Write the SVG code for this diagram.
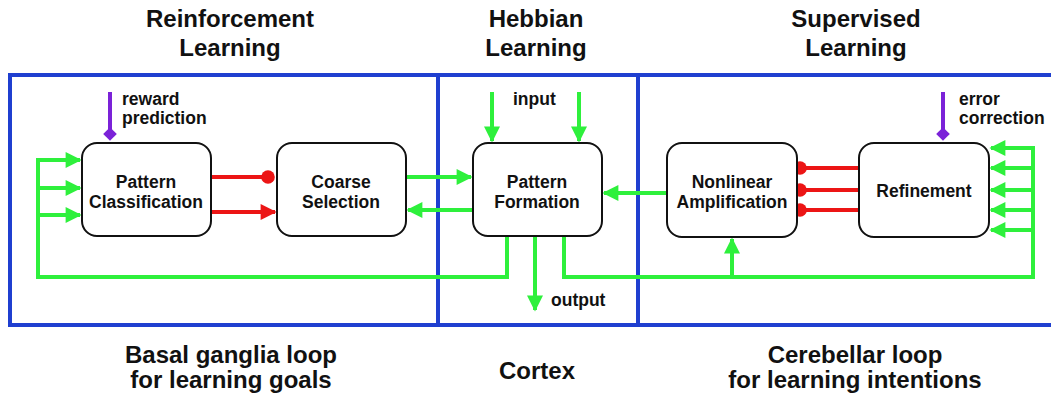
<svg xmlns="http://www.w3.org/2000/svg" width="1051" height="398" viewBox="0 0 1051 398">
<defs>
<style>
.title{font-family:"Liberation Sans",Arial,sans-serif;font-weight:bold;font-size:24px;fill:#111;text-anchor:middle}
.node{fill:#fff;stroke:#111;stroke-width:2}
.nt{font-family:"Liberation Sans",Arial,sans-serif;font-weight:bold;font-size:17.5px;fill:#111;text-anchor:middle}
.lbl{font-family:"Liberation Sans",Arial,sans-serif;font-weight:bold;font-size:17.5px;fill:#111}
.frame{fill:none;stroke:#1f3fd0;stroke-width:4}
.g{fill:none;stroke:#2ef03c;stroke-width:4}
.r{fill:none;stroke:#ec1515;stroke-width:4}
.p{fill:none;stroke:#7b22d8;stroke-width:4}
</style>
<marker id="ga" viewBox="0 0 10 10" refX="9" refY="5" markerWidth="4.2" markerHeight="4" orient="auto" markerUnits="strokeWidth"><path d="M0,0L10,5L0,10z" fill="#2ef03c"/></marker>
<marker id="ra" viewBox="0 0 10 10" refX="9" refY="5" markerWidth="4.2" markerHeight="4" orient="auto" markerUnits="strokeWidth"><path d="M0,0L10,5L0,10z" fill="#ec1515"/></marker>
<marker id="rc" viewBox="0 0 10 10" refX="5" refY="5" markerWidth="3.4" markerHeight="3.4" orient="auto" markerUnits="strokeWidth"><circle cx="5" cy="5" r="5" fill="#ec1515"/></marker>
<marker id="pd" viewBox="0 0 10 10" refX="5" refY="5" markerWidth="3.4" markerHeight="3.4" orient="auto" markerUnits="strokeWidth"><path d="M0,5L5,0L10,5L5,10z" fill="#7b22d8"/></marker>
</defs>
<rect width="1051" height="398" fill="#fff"/>
<g id="titles">
<text class="title" x="230" y="27">Reinforcement</text>
<text class="title" x="230" y="56">Learning</text>
<text class="title" x="536" y="27">Hebbian</text>
<text class="title" x="536" y="56">Learning</text>
<text class="title" x="856" y="27">Supervised</text>
<text class="title" x="856" y="56">Learning</text>
<text class="title" x="231" y="363">Basal ganglia loop</text>
<text class="title" x="231" y="388">for learning goals</text>
<text class="title" x="537" y="379">Cortex</text>
<text class="title" x="855" y="363">Cerebellar loop</text>
<text class="title" x="855" y="388">for learning intentions</text>
</g>
<g id="frame">
<rect class="frame" x="10" y="75" width="1043" height="250"/>
<line class="frame" x1="438" y1="75" x2="438" y2="325"/>
<line class="frame" x1="638" y1="75" x2="638" y2="325"/>
</g>
<g id="connectors">
<path class="g" d="M507,236V277H38V160H80" marker-end="url(#ga)"/>
<path class="g" d="M38,188H80" marker-end="url(#ga)"/>
<path class="g" d="M38,215H80" marker-end="url(#ga)"/>
<path class="r" d="M211,177H268" marker-end="url(#rc)"/>
<path class="r" d="M211,212H275" marker-end="url(#ra)"/>
<path class="g" d="M406,177H471" marker-end="url(#ga)"/>
<path class="g" d="M473,210H408" marker-end="url(#ga)"/>
<path class="g" d="M492,92V141" marker-end="url(#ga)"/>
<path class="g" d="M579,92V141" marker-end="url(#ga)"/>
<path class="g" d="M535,236V310" marker-end="url(#ga)"/>
<path class="g" d="M564,236V277H1033V148H991" marker-end="url(#ga)"/>
<path class="g" d="M1033,168H991" marker-end="url(#ga)"/>
<path class="g" d="M1033,190H991" marker-end="url(#ga)"/>
<path class="g" d="M1033,210H991" marker-end="url(#ga)"/>
<path class="g" d="M1033,230H991" marker-end="url(#ga)"/>
<path class="g" d="M732,277V239" marker-end="url(#ga)"/>
<path class="g" d="M667,193H604" marker-end="url(#ga)"/>
<path class="r" d="M859,168H800" marker-end="url(#rc)"/>
<path class="r" d="M859,190H800" marker-end="url(#rc)"/>
<path class="r" d="M859,210H800" marker-end="url(#rc)"/>
<path class="p" d="M110,92V134" marker-end="url(#pd)"/>
<path class="p" d="M943,92V134" marker-end="url(#pd)"/>
</g>
<g id="labels">
<text class="lbl" x="122" y="105">reward</text>
<text class="lbl" x="122" y="124">prediction</text>
<text class="lbl" x="513" y="105">input</text>
<text class="lbl" x="551" y="306">output</text>
<text class="lbl" x="959" y="105">error</text>
<text class="lbl" x="959" y="124">correction</text>
</g>
<g id="pattern-classification">
<rect class="node" x="82" y="143" width="129" height="93" rx="15"/>
<text class="nt" x="146" y="188">Pattern</text>
<text class="nt" x="146" y="208">Classification</text>
</g>
<g id="coarse-selection">
<rect class="node" x="277" y="143" width="129" height="93" rx="15"/>
<text class="nt" x="341" y="188">Coarse</text>
<text class="nt" x="341" y="208">Selection</text>
</g>
<g id="pattern-formation">
<rect class="node" x="473" y="143" width="129" height="93" rx="15"/>
<text class="nt" x="537" y="188">Pattern</text>
<text class="nt" x="537" y="208">Formation</text>
</g>
<g id="nonlinear-amplification">
<rect class="node" x="667" y="143" width="130" height="94" rx="15"/>
<text class="nt" x="732" y="188">Nonlinear</text>
<text class="nt" x="732" y="208">Amplification</text>
</g>
<g id="refinement">
<rect class="node" x="859" y="143" width="130" height="94" rx="15"/>
<text class="nt" x="924" y="197">Refinement</text>
</g>
</svg>
